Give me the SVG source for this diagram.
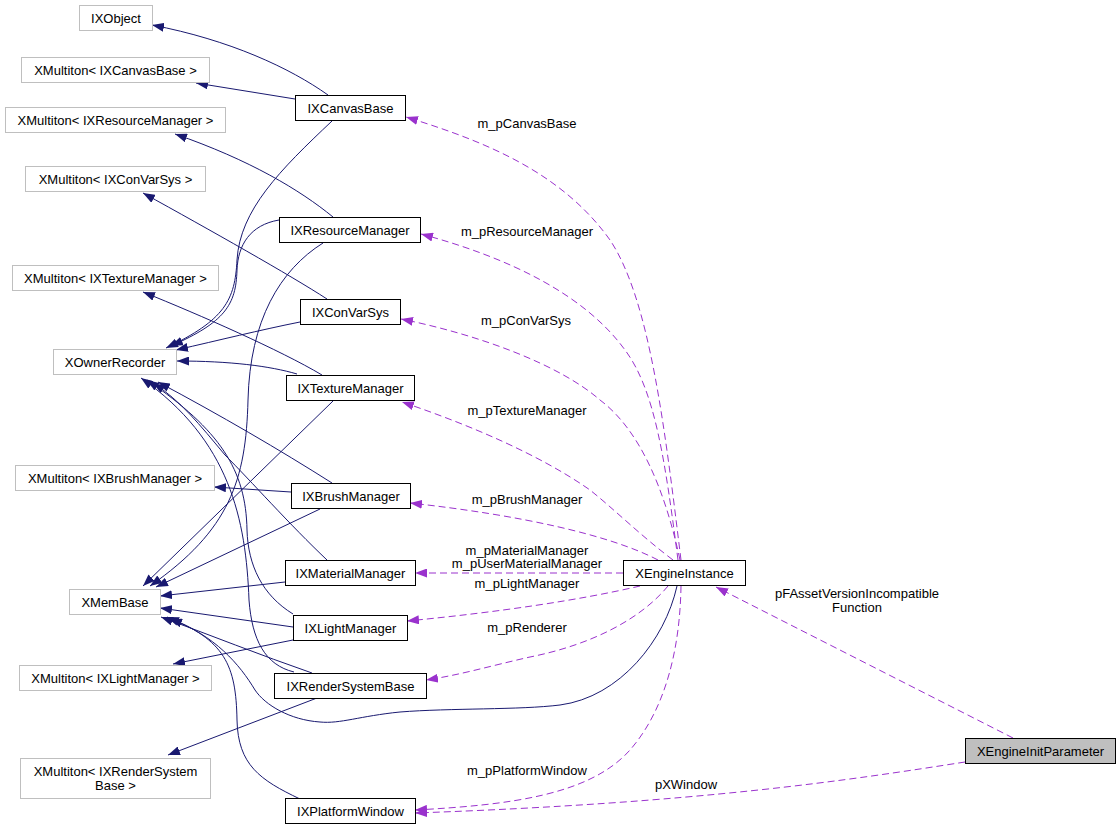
<svg xmlns="http://www.w3.org/2000/svg" width="1120" height="831" viewBox="0 0 1120 831">
<style>
text{font-family:"Liberation Sans",Arial,Helvetica,sans-serif;font-size:13px;fill:#000;text-anchor:middle}
.g rect{fill:#fff;stroke:#bfbfbf;stroke-width:1}
.b rect{fill:#fff;stroke:#000;stroke-width:1}
.s rect{fill:#bfbfbf;stroke:#000;stroke-width:1}
.inh{fill:none;stroke:#191970;stroke-width:1;marker-end:url(#an)}
.use{fill:none;stroke:#9a32cd;stroke-width:1;stroke-dasharray:7,4;marker-end:url(#ap)}
</style>
<defs>
<marker id="an" viewBox="0 0 12 9" markerWidth="12" markerHeight="9" refX="12" refY="4.5" orient="auto" markerUnits="userSpaceOnUse"><path d="M0,0L12,4.5L0,9z" fill="#191970"/></marker>
<marker id="ap" viewBox="0 0 12 9" markerWidth="12" markerHeight="9" refX="12" refY="4.5" orient="auto" markerUnits="userSpaceOnUse"><path d="M0,0L12,4.5L0,9z" fill="#9a32cd"/></marker>
</defs>
<rect width="1120" height="831" fill="#fff"/>
<g id="edges">
<path class="inh" d="M328,95 C290,68 230,40 152,25"/>
<path class="inh" d="M295,99 L196,83"/>
<path class="inh" d="M333,217 C300,190 250,160 175,134"/>
<path class="inh" d="M327,299 C290,275 210,230 143,193"/>
<path class="inh" d="M322,375 C280,350 200,315 143,292"/>
<path class="inh" d="M300,322 C260,330 220,340 176,350"/>
<path class="inh" d="M297,374 C270,366 230,361 177,361"/>
<path class="inh" d="M332,121 C280,170 240,210 237,260 C235,300 225,320 166,348"/>
<path class="inh" d="M279,220 C250,225 238,245 237,270 C236,305 225,322 171,346"/>
<path class="inh" d="M323,243 C280,270 250,320 248,400 C246,480 230,530 150,586"/>
<path class="inh" d="M333,401 L143,586"/>
<path class="inh" d="M332,483 C280,450 220,415 158,382"/>
<path class="inh" d="M291,492 L214,487"/>
<path class="inh" d="M320,509 L156,587"/>
<path class="inh" d="M327,560 C290,525 250,480 225,455 C200,425 180,400 153,383"/>
<path class="inh" d="M285,582 L160,596"/>
<path class="inh" d="M293,614 C262,595 248,565 247,530 C246,470 220,430 147,380"/>
<path class="inh" d="M293,627 L160,608"/>
<path class="inh" d="M293,640 L173,664"/>
<path class="inh" d="M294,672 C265,665 252,640 249,600 C246,520 230,440 141,378"/>
<path class="inh" d="M312,673 C260,655 210,635 161,617"/>
<path class="inh" d="M317,698 L168,755"/>
<path class="inh" d="M300,799 C260,780 238,765 237,720 C236,665 225,640 167,617"/>
<path class="inh" d="M677,586 C665,640 620,697 560,705 C520,710 450,708 400,712 C360,716 340,724 320,722 C290,720 265,705 255,690 C240,665 215,635 170,619"/>
<path class="use" d="M681,560 C665,430 650,300 610,240 C560,170 480,140 406,117"/>
<path class="use" d="M678,560 C665,460 655,390 625,350 C585,295 510,258 421,234"/>
<path class="use" d="M680,560 C665,490 640,430 600,400 C560,365 480,335 401,319"/>
<path class="use" d="M673,560 C640,535 615,510 590,490 C540,455 470,425 402,402"/>
<path class="use" d="M658,560 C610,535 520,515 410,503"/>
<path class="use" d="M623,573 L415,573"/>
<path class="use" d="M640,586 C580,600 500,612 407,621"/>
<path class="use" d="M668,586 C640,620 590,645 530,657 C490,666 460,675 426,680"/>
<path class="use" d="M681,586 C680,650 665,710 630,750 C590,795 510,805 415,810"/>
<path class="use" d="M965,762 C850,780 700,803 415,813"/>
<path class="use" d="M1013,738 L716,587"/>
<text x="527" y="128">m_pCanvasBase</text>
<text x="527" y="236">m_pResourceManager</text>
<text x="526" y="325">m_pConVarSys</text>
<text x="527" y="415">m_pTextureManager</text>
<text x="527" y="504">m_pBrushManager</text>
<text x="527" y="555">m_pMaterialManager</text>
<text x="527" y="568">m_pUserMaterialManager</text>
<text x="527" y="588">m_pLightManager</text>
<text x="527" y="632">m_pRenderer</text>
<text x="527" y="775">m_pPlatformWindow</text>
<text x="686" y="789">pXWindow</text>
<text x="857" y="598">pFAssetVersionIncompatible</text>
<text x="857" y="612">Function</text>
</g>
<g id="IXObject" class="g"><rect x="79.5" y="5.5" width="73" height="25"/><text x="116" y="22.5">IXObject</text></g>
<g id="XMultiton_IXCanvasBase" class="g"><rect x="21.5" y="57.5" width="188" height="25"/><text x="115.5" y="74.5">XMultiton&lt; IXCanvasBase &gt;</text></g>
<g id="XMultiton_IXResourceManager" class="g"><rect x="5.5" y="107.5" width="220" height="25"/><text x="115.5" y="124.5">XMultiton&lt; IXResourceManager &gt;</text></g>
<g id="XMultiton_IXConVarSys" class="g"><rect x="25.5" y="166.5" width="180" height="25"/><text x="115.5" y="183.5">XMultiton&lt; IXConVarSys &gt;</text></g>
<g id="XMultiton_IXTextureManager" class="g"><rect x="12.5" y="265.5" width="206" height="25"/><text x="115.5" y="282.5">XMultiton&lt; IXTextureManager &gt;</text></g>
<g id="XOwnerRecorder" class="g"><rect x="53.5" y="349.5" width="123" height="25"/><text x="115" y="366.5">XOwnerRecorder</text></g>
<g id="XMultiton_IXBrushManager" class="g"><rect x="15.5" y="465.5" width="199" height="25"/><text x="115" y="482.5">XMultiton&lt; IXBrushManager &gt;</text></g>
<g id="XMemBase" class="g"><rect x="69.5" y="589.5" width="91" height="25"/><text x="115" y="606.5">XMemBase</text></g>
<g id="XMultiton_IXLightManager" class="g"><rect x="19.5" y="665.5" width="192" height="25"/><text x="115.5" y="682.5">XMultiton&lt; IXLightManager &gt;</text></g>
<g id="XMultiton_IXRenderSystemBase" class="g"><rect x="20.5" y="758.5" width="190" height="40"/><text x="115.5" y="775.5">XMultiton&lt; IXRenderSystem</text><text x="115.5" y="789.5">Base &gt;</text></g>
<g id="IXCanvasBase" class="b"><rect x="295.5" y="95.5" width="110" height="25"/><text x="350.5" y="112.5">IXCanvasBase</text></g>
<g id="IXResourceManager" class="b"><rect x="279.5" y="217.5" width="141" height="25"/><text x="350" y="234.5">IXResourceManager</text></g>
<g id="IXConVarSys" class="b"><rect x="300.5" y="299.5" width="100" height="25"/><text x="350.5" y="316.5">IXConVarSys</text></g>
<g id="IXTextureManager" class="b"><rect x="286.5" y="375.5" width="128" height="25"/><text x="350.5" y="392.5">IXTextureManager</text></g>
<g id="IXBrushManager" class="b"><rect x="291.5" y="483.5" width="119" height="25"/><text x="351" y="500.5">IXBrushManager</text></g>
<g id="IXMaterialManager" class="b"><rect x="285.5" y="560.5" width="130" height="25"/><text x="350.5" y="577.5">IXMaterialManager</text></g>
<g id="IXLightManager" class="b"><rect x="293.5" y="615.5" width="114" height="25"/><text x="350.5" y="632.5">IXLightManager</text></g>
<g id="IXRenderSystemBase" class="b"><rect x="274.5" y="673.5" width="152" height="25"/><text x="350.5" y="690.5">IXRenderSystemBase</text></g>
<g id="IXPlatformWindow" class="b"><rect x="285.5" y="798.5" width="130" height="25"/><text x="350.5" y="815.5">IXPlatformWindow</text></g>
<g id="XEngineInstance" class="b"><rect x="623.5" y="560.5" width="122" height="25"/><text x="684.5" y="577.5">XEngineInstance</text></g>
<g id="XEngineInitParameter" class="s"><rect x="965.5" y="738.5" width="150" height="25"/><text x="1040.5" y="755.5">XEngineInitParameter</text></g>
</svg>
